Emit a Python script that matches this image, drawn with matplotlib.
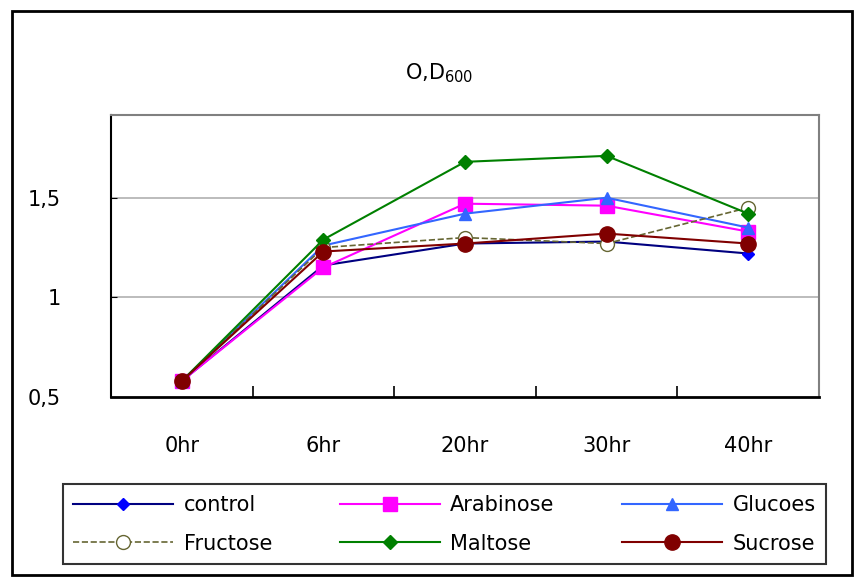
import matplotlib
matplotlib.use('Agg')
import matplotlib.pyplot as plt
from matplotlib.patches import Rectangle

hours = ['0hr', '6hr', '20hr', '30hr', '40hr']
control = [0.58, 1.16, 1.27, 1.28, 1.22]
arabinose = [0.58, 1.15, 1.47, 1.46, 1.33]
glucoes = [0.58, 1.26, 1.42, 1.50, 1.35]
fructose = [0.58, 1.25, 1.30, 1.27, 1.45]
maltose = [0.58, 1.29, 1.68, 1.71, 1.42]
sucrose = [0.58, 1.23, 1.27, 1.32, 1.27]

fig = plt.figure(figsize=(8.58, 5.78), dpi=100)
fig.patches.append(Rectangle((12/858, 1-575/578), 840/858, 564/578, transform=fig.transFigure,
                             fill=False, edgecolor='black', linewidth=2))

ax = fig.add_axes([111/858, 1-397/578, 708/858, 282/578])
x = list(range(len(hours)))

l1, = ax.plot(x, control, color='#000080', lw=1.5, marker='D', ms=6, mfc='#0000ff', mec='#0000ff')
l2, = ax.plot(x, arabinose, color='#ff00ff', lw=1.5, marker='s', ms=10, mfc='#ff00ff', mec='#ff00ff')
l3, = ax.plot(x, glucoes, color='#3366ff', lw=1.5, marker='^', ms=9, mfc='#3366ff', mec='#3366ff')
l4, = ax.plot(x, fructose, color='#666633', lw=1.2, ls='--', marker='o', ms=10, mfc='white', mec='#666633')
l5, = ax.plot(x, maltose, color='#008000', lw=1.5, marker='D', ms=7, mfc='#008000', mec='#008000')
l6, = ax.plot(x, sucrose, color='#800000', lw=1.5, marker='o', ms=11, mfc='#800000', mec='#800000')

ax.set_xlim(-0.5, 4.5)
ax.set_ylim(0.5, 1.915)
ax.set_yticks([0.5, 1.0, 1.5])
ax.set_yticklabels(['0,5', '1', '1,5'], fontsize=15)
ax.set_xticks(x)
ax.set_xticklabels(hours, fontsize=15)
ax.tick_params(axis='x', length=0, pad=28)
ax.tick_params(axis='y', direction='in', length=4, pad=36)
ax.set_xticks([0.5, 1.5, 2.5, 3.5], minor=True)
ax.tick_params(axis='x', which='minor', direction='in', length=8, width=1.2)
for yv in [1.0, 1.5]:
    ax.axhline(yv, color='#b0b0b0', lw=1.2, zorder=0)
ax.spines['left'].set_linewidth(1.5)
ax.spines['bottom'].set_linewidth(2)
ax.spines['top'].set_color('#808080')
ax.spines['right'].set_color('#808080')
ax.spines['top'].set_linewidth(1.5)
ax.spines['right'].set_linewidth(1.5)

fig.text(439/858, 1-73/578, 'O,D$_{\\mathregular{600}}$', ha='center', va='center', fontsize=15)

handles = [l1, l4, l2, l5, l3, l6]
labels = ['control', 'Fructose', 'Arabinose', 'Maltose', 'Glucoes', 'Sucrose']
leg = fig.legend(handles, labels, ncol=3, loc='lower left', mode='expand',
                 bbox_to_anchor=(63/858, 1-564/578, 763/858, 84/578),
                 fontsize=15, frameon=True, fancybox=False, edgecolor='black', handlelength=4.8,
                 borderpad=0.5, labelspacing=0.9, handletextpad=0.5, borderaxespad=0)
leg.get_frame().set_linewidth(1.5)

fig.savefig('out.png', dpi=100)
